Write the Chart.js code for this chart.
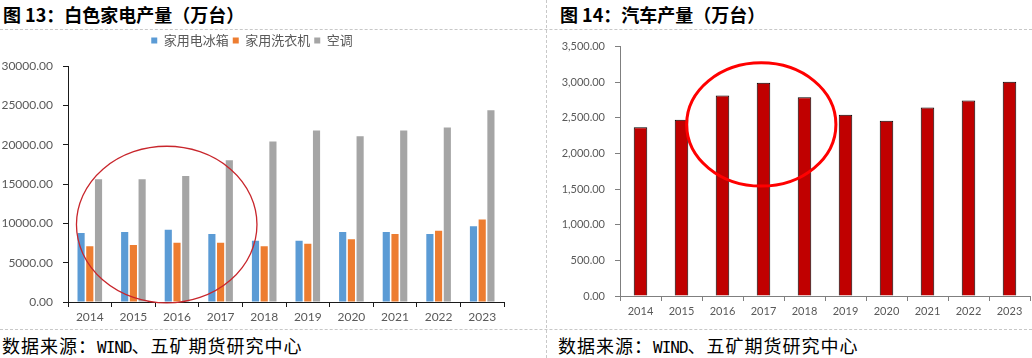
<!DOCTYPE html>
<html><head><meta charset="utf-8">
<script src="https://cdn.jsdelivr.net/npm/chart.js@4.4.0/dist/chart.umd.min.js"></script>
<style>
html,body{margin:0;padding:0;background:#fff;}
body{width:1032px;height:358px;position:relative;overflow:hidden;font-family:"Noto Sans CJK SC",sans-serif;}
.title{position:absolute;top:2px;font-size:18px;font-weight:bold;color:#000;white-space:nowrap;line-height:24px;}
.src{position:absolute;top:334px;font-size:18px;letter-spacing:1px;color:#000;white-space:nowrap;line-height:22px;}
.src .lat{font-family:"DejaVu Sans Mono",monospace;font-size:16px;letter-spacing:-1px;}
.hl{position:absolute;left:0;width:1032px;border-top:1px dashed #c8c8c8;height:0;}
.vl{position:absolute;top:0;height:358px;border-left:1px dashed #c8c8c8;width:0;}
canvas{position:absolute;}
</style></head>
<body>
<div class="title" style="left:3px">图 13：白色家电产量（万台）</div>
<div class="title" style="left:560px">图 14：汽车产量（万台）</div>
<div class="hl" style="top:29px"></div>
<div class="hl" style="top:329px"></div>
<div class="vl" style="left:546px"></div>
<div class="src" style="left:2px">数据来源：<span class="lat">WIND</span>、五矿期货研究中心</div>
<div class="src" style="left:558px">数据来源：<span class="lat">WIND</span>、五矿期货研究中心</div>
<div style="position:absolute;left:0;top:30px;width:520px;height:298px"><canvas id="c1" width="520" height="298"></canvas></div>
<div style="position:absolute;left:548px;top:30px;width:484px;height:298px"><canvas id="c2" width="484" height="298"></canvas></div>
<script>
const years = ['2014','2015','2016','2017','2018','2019','2020','2021','2022','2023'];
const fridge = [8784, 8911, 9208, 8656, 7807, 7807, 8911, 8911, 8656, 9633];
const washer = [7087, 7256, 7553, 7553, 7087, 7426, 7977, 8656, 9080, 10481];
const aircon = [15615, 15615, 16040, 18034, 20410, 21810, 21090, 21810, 22192, 24400];
const cars = [2369, 2472, 2813, 2991, 2790, 2542, 2458, 2645, 2743, 3005];
const leftTicks = {min:0, max:30000, step:5000};
const rightTicks = {min:0, max:3500, step:500};

const ellipsePlugin = {
  id:'ellipse',
  afterDatasetsDraw(chart, args, opts){
    const x = chart.scales.x, y = chart.scales.y, ctx = chart.ctx;
    const cx = x.getPixelForValue(opts.cx);
    const rx = Math.abs(x.getPixelForValue(opts.cx + opts.rx) - cx);
    const cy = y.getPixelForValue(opts.cy);
    const ry = Math.abs(y.getPixelForValue(opts.cy + opts.ry) - cy);
    ctx.save();
    ctx.beginPath();
    ctx.ellipse(cx, cy, rx, ry, 0, 0, Math.PI*2);
    ctx.strokeStyle = opts.color; ctx.lineWidth = opts.width;
    ctx.stroke();
    ctx.restore();
  }
};

const tickFont = {family:'Lato', size:12};
new Chart(document.getElementById('c1'), {
  type:'bar',
  data:{labels:years, datasets:[
    {label:'家用电冰箱', data:fridge, backgroundColor:'#5B9BD5'},
    {label:'家用洗衣机', data:washer, backgroundColor:'#ED7D31'},
    {label:'空调', data:aircon, backgroundColor:'#A5A5A5'}
  ]},
  options:{
    responsive:false, animation:false,
    layout:{padding:{left:0,right:16,top:0,bottom:0}},
    datasets:{bar:{categoryPercentage:0.6, barPercentage:0.82}},
    plugins:{
      tooltip:{enabled:false},
      legend:{display:true, position:'top',
        labels:{boxWidth:6, boxHeight:6, padding:4, color:'#595959', font:{family:'"Noto Sans CJK SC"', size:13}}},
      title:{display:true, text:' ', weight:500, font:{size:1}, padding:{top:0,bottom:8}},
      ellipse:{cx:1.764, cy:9849, rx:2.07, ry:9968, color:'#C8262C', width:1.3}
    },
    scales:{
      x:{grid:{display:true, drawOnChartArea:false, offset:true, tickLength:5, color:'#1a1a1a'},
         border:{display:true, color:'#1a1a1a', width:1},
         ticks:{color:'#595959', font:tickFont, padding:3, maxRotation:0},
         afterFit(s){s.height=26;}},
      y:{min:leftTicks.min, max:leftTicks.max,
         grid:{display:true, drawOnChartArea:false, tickLength:5, color:'#1a1a1a'},
         border:{display:true, color:'#1a1a1a', width:1},
         ticks:{stepSize:leftTicks.step, color:'#595959', font:tickFont, padding:10,
           callback:v=>Number(v).toFixed(2)},
         afterFit(s){s.width=68;}}
    }
  },
  plugins:[ellipsePlugin]
});

new Chart(document.getElementById('c2'), {
  type:'bar',
  data:{labels:years, datasets:[
    {label:'汽车产量', data:cars, backgroundColor:'#C00000', borderColor:'#000', borderWidth:1}
  ]},
  options:{
    responsive:false, animation:false,
    layout:{padding:{left:0,right:2,top:16,bottom:0}},
    datasets:{bar:{categoryPercentage:1, barPercentage:0.33}},
    plugins:{
      tooltip:{enabled:false},
      legend:{display:false},
      ellipse:{cx:2.946, cy:2407, rx:1.82, ry:865, color:'#FF0000', width:3}
    },
    scales:{
      x:{grid:{display:true, drawOnChartArea:false, offset:true, tickLength:5, color:'#7f7f7f'},
         border:{display:true, color:'#7f7f7f', width:1},
         ticks:{color:'#595959', font:{family:'Lato', size:11}, padding:4, maxRotation:0},
         afterFit(s){s.height=32;}},
      y:{min:rightTicks.min, max:rightTicks.max,
         grid:{display:true, drawOnChartArea:false, tickLength:5, color:'#7f7f7f'},
         border:{display:true, color:'#7f7f7f', width:1},
         ticks:{stepSize:rightTicks.step, color:'#595959', font:{family:'Lato', size:11}, padding:10,
           callback:v=>Number(v).toLocaleString('en-US',{minimumFractionDigits:2, maximumFractionDigits:2})},
         afterFit(s){s.width=72;}}
    }
  },
  plugins:[ellipsePlugin]
});
</script>
</body></html>
